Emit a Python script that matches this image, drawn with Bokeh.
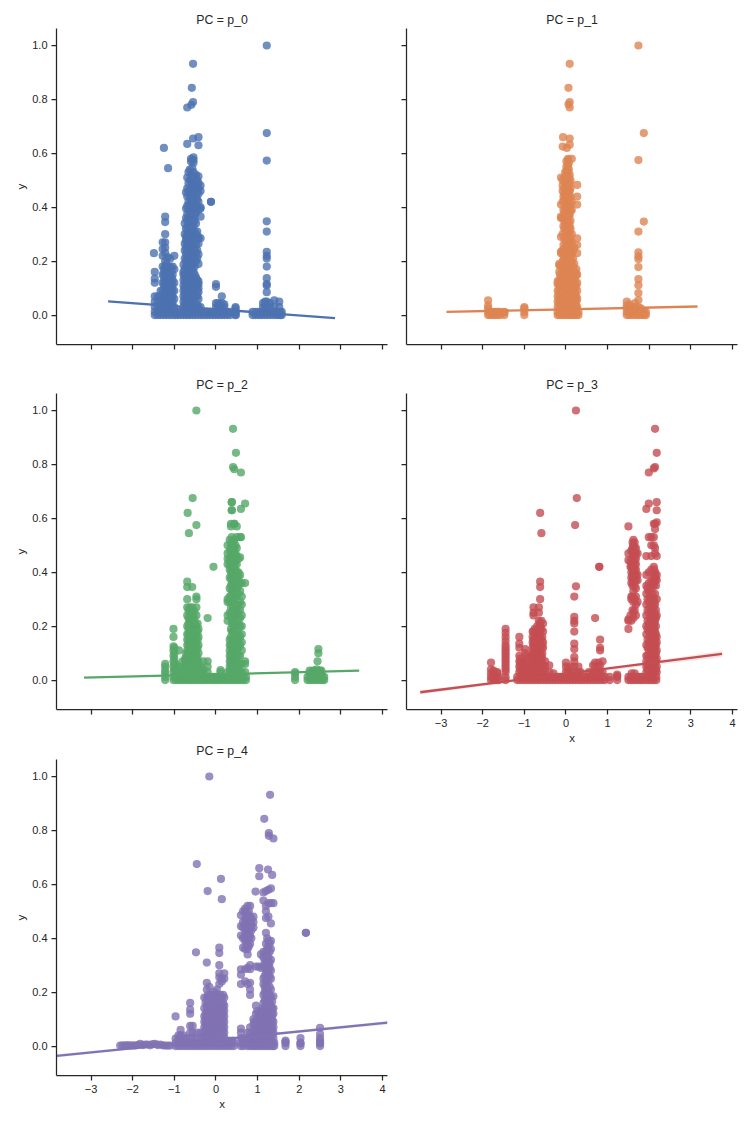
from bokeh.plotting import figure
from bokeh.layouts import column, row
from bokeh.models import FixedTicker, Range1d
from bokeh.embed import file_html
from bokeh.resources import INLINE

panel_titles = ["PC = p_0", "PC = p_1", "PC = p_2", "PC = p_3", "PC = p_4"]
colors = ["#4c72b0", "#dd8452", "#55a868", "#c44e52", "#8172b3"]
x_ticks = [-3, -2, -1, 0, 1, 2, 3, 4]
x_tick_labels = ["−3", "−2", "−1", "0", "1", "2", "3", "4"]
y_ticks = [0.0, 0.2, 0.4, 0.6, 0.8, 1.0]
y_tick_labels = ["0.0", "0.2", "0.4", "0.6", "0.8", "1.0"]
floor_y = [0.0, 0.012]

# (x, [y values]) columns
p0_floor_x = [-1.47,-1.4,-1.33,-1.26,-1.19,-1.12,-1.05,-.98,-.92,-.85,-.78,-.71,-.64,-.57,-.5,-.43,-.36,-.29,-.22,-.15,-.08,-.01,.06,.13,.2,.27,.34,.46,.48,.88,.95,1.02,1.09,1.16,1.23,1.3,1.37,1.44,1.5,1.55,1.58]
p0_columns = [
 (-1.49,[.23]),(-1.47,[.03,.05,.07,.12,.135,.16]),(-1.4,[.03,.05,.07]),(-1.33,[.03,.05,.07,.09]),
 (-1.28,[.03,.06,.09,.12,.15,.18,.22,.245,.27]),
 (-1.22,[.03,.06,.08,.1,.12,.14,.16,.18,.2,.23,.25,.27,.3,.345,.365]),
 (-1.16,[.03,.05,.08,.1,.12,.14,.16,.18,.215]),
 (-1.1,[.03,.05,.07,.09,.11,.13,.15,.18,.21]),
 (-1.04,[.03,.05,.07,.09,.11,.13,.15,.18]),(-1.0,[.03,.06,.09,.12,.17,.22]),
 (-.78,[.03,.05,.07,.09,.11,.13,.15,.16,.187]),
 (-.72,[.03,.05,.07,.09,.11,.13,.155,.18,.2,.225,.25,.275,.29,.32,.36,.395,.455]),
 (-.66,[.03,.05,.08,.11,.14,.17,.2,.22,.24,.27,.29,.31,.335,.36,.39,.42,.455,.49,.53]),
 (-.6,[.03,.06,.09,.12,.15,.18,.2,.23,.25,.28,.31,.34,.37,.4,.43,.46,.5,.52,.57,.58]),
 (-.54,[.03,.06,.08,.11,.14,.16,.19,.22,.25,.27,.3,.33,.36,.39,.42,.44,.47,.49,.53,.565,.575,.585]),
 (-.48,[.03,.07,.1,.12,.14,.2,.23,.26,.3,.34,.38,.41,.44,.47,.5,.52]),
 (-.42,[.03,.06,.085,.1,.115,.125,.19,.225,.265,.285,.29,.39,.42,.45,.47,.49,.515]),
 (-.37,[.03,.285,.365,.395,.4,.46,.48]),
 (0.0,[.03,.045,.105,.115]),(.05,[.03,.045]),(.1,[.03,.04]),(.14,[.03,.045,.07]),(.2,[.03,.04]),(.47,[.025,.03]),
 (1.13,[.03,.045]),(1.18,[.03,.05]),
 (1.22,[.03,.05,.085,.11,.115,.137,.18,.21,.22,.235,.31,.348,.573,.675,1.0]),
 (1.3,[.03,.045]),(1.4,[.03,.055]),(1.52,[.03,.05]),
 (-.55,[.655,.79,.932]),(-.58,[.843]),(-.59,[.78]),(-.69,[.77,.635]),(-.42,[.63,.66]),
 (-1.25,[.62]),(-1.15,[.545]),(-.12,[.42,.42]),
 # the dense parts of the blocks
 (-1.25,[.04,.07,.11,.13,.15,.17]),(-1.19,[.04,.07,.09,.11,.13,.15,.17,.19]),(-1.13,[.04,.06,.09,.11,.13,.15,.17]),(-1.07,[.04,.06,.08,.1,.12,.14,.165]),
 (-.75,[.04,.06,.08,.1,.12,.14,.17,.21,.24,.265,.3,.34]),
 (-.69,[.04,.06,.09,.12,.15,.19,.21,.23,.255,.28,.3,.325,.35,.375,.405,.44,.47,.51]),
 (-.63,[.04,.07,.1,.13,.16,.19,.21,.235,.26,.28,.3,.32,.35,.38,.41,.44,.47,.5,.54]),
 (-.57,[.04,.07,.1,.13,.17,.21,.24,.265,.29,.32,.35,.38,.41,.44,.45,.48,.51,.545]),
 (-.51,[.04,.07,.1,.13,.15,.18,.21,.24,.28,.31,.35,.37,.4,.43,.46,.48,.51]),
 (-.45,[.04,.07,.09,.11,.13,.21,.24,.28,.31,.4,.43,.46,.48,.5]),
]
p0_line_x = [-2.59, 2.86]
p0_line_y = [0.051, -0.011]

p1_floor_x = [-1.87,-1.82,-1.76,-1.7,-1.64,-1.58,-1.48,-1.0,-.2,-.15,-.1,-.05,0,.05,.1,.15,.2,.25,.3,1.46,1.52,1.58,1.64,1.7,1.76,1.82,1.88,1.92]
p1_columns = [
 (-1.87,[.025,.035,.055]),(-1.0,[.025,.03]),(-1.48,[.01]),
 (-.2,[.03,.05,.07,.09,.115,.125]),(-.16,[.03,.05,.07,.09,.11,.13,.16,.185,.19]),
 (-.12,[.03,.05,.07,.09,.11,.14,.18,.23,.235,.29,.36,.365,.41,.51]),
 (-.08,[.03,.05,.07,.1,.13,.17,.2,.24,.3,.36,.42,.46,.48,.5,.625]),
 (-.04,[.03,.06,.09,.12,.15,.18,.21,.24,.28,.32,.35,.38,.43,.45,.47,.51]),
 (.01,[.03,.06,.09,.12,.15,.18,.21,.24,.27,.31,.33,.36,.39,.42,.45,.48,.5,.53,.55,.57]),
 (.05,[.03,.06,.09,.12,.15,.18,.21,.24,.27,.3,.33,.36,.38,.41,.44,.47,.5,.53,.555,.575,.58]),
 (.09,[.03,.06,.09,.12,.15,.18,.21,.24,.27,.3,.33,.37,.4,.43,.46,.49,.52]),
 (.14,[.03,.06,.09,.12,.14,.17,.2,.23,.27,.3,.39,.42,.58]),
 (.2,[.03,.05,.07,.09,.11,.14,.19,.25]),(.25,[.03,.05,.07,.11,.15,.17]),
 (.27,[.03,.06,.09,.12,.15,.23,.26,.285,.41,.44,.483]),
 (1.46,[.025,.035,.05]),(1.52,[.025,.04]),(1.58,[.03]),(1.66,[.03,.045]),
 (1.74,[.03,.056,.082,.111,.134,.178,.208,.218,.233,.31,.575,1.0]),
 (1.8,[.025]),(1.87,[.347,.675]),
 (.09,[.632,.655,.79,.77,.932]),(.06,[.782,.843]),(-.07,[.66]),(.02,[.62]),
 # the dense parts of the tower
 (-.14,[.04,.06,.08,.1,.12,.15]),(-.06,[.04,.06,.085,.11,.14,.19,.22,.26,.33,.39,.44]),
 (-.02,[.04,.07,.1,.13,.16,.19,.22,.25,.29,.34,.37,.4,.44,.49,.53]),
 (.03,[.04,.07,.1,.13,.16,.19,.22,.25,.285,.32,.345,.37,.4,.43,.46,.49,.515,.54]),
 (.07,[.04,.07,.1,.13,.16,.19,.225,.255,.285,.315,.345,.37,.395,.42,.45,.48,.51,.54,.565]),
 (.11,[.04,.07,.1,.13,.16,.19,.22,.25,.28,.32,.35,.385,.41,.44,.47,.5]),
 (.17,[.04,.07,.1,.13,.16,.18,.21,.24]),(.22,[.04,.06,.08,.1,.13,.16]),
]
p1_line_x = [-2.87, 3.16]
p1_line_y = [0.012, 0.032]

p2_floor_x = [-1.22,-1.02,-.96,-.9,-.84,-.78,-.72,-.66,-.6,-.54,-.48,-.42,-.36,-.3,-.24,-.18,-.12,-.06,0,.06,.12,.18,.24,.3,.36,.42,.48,.54,.6,.66,.72,1.9,2.2,2.26,2.32,2.38,2.44,2.5,2.56,2.6]
p2_columns = [
 (-1.22,[.025,.035,.05,.06]),
 (-1.02,[.03,.05,.07,.09,.11,.125,.16,.19]),(-.96,[.03,.05,.06]),(-.89,[.03,.05,.11]),
 (-.8,[.03,.045,.07]),(-.74,[.03,.05,.07,.08]),
 (-.69,[.03,.05,.07,.09,.11,.13,.15,.17,.2,.24,.27,.3,.345,.365]),
 (-.63,[.03,.05,.07,.09,.12,.14,.16,.18,.2,.22,.25,.27]),
 (-.57,[.03,.05,.08,.1,.12,.14,.17,.2,.23,.25,.27,.345]),
 (-.52,[.03,.05,.07,.09,.12,.15,.17,.2,.225,.255]),
 (-.47,[.03,.05,.07,.09,.11,.14,.17,.2,.24,.27,.3,.31]),
 (-.42,[.03,.05,.07,.1,.13,.16,.19]),(-.36,[.03,.05]),(-.3,[.03,.04,.07]),(-.2,[.03,.05,.07,.23]),
 (.11,[.03,.037]),
 (.28,[.03,.22,.24,.29,.3,.43,.45,.47,.5]),
 (.33,[.03,.05,.07,.09,.11,.13,.15,.25,.29,.31,.34,.38,.41,.43,.45,.48,.52]),
 (.38,[.03,.05,.07,.09,.12,.15,.18,.21,.25,.29,.33,.36,.39,.41,.44,.47,.5,.53,.63,.66]),
 (.44,[.03,.05,.07,.1,.13,.17,.2,.23,.26,.31,.34,.37,.4,.43,.46,.49,.52,.58]),
 (.5,[.03,.05,.08,.11,.14,.17,.2,.24,.27,.31,.34,.37,.4,.43,.46,.49,.53,.57]),
 (.58,[.03,.06,.09,.13,.16,.2,.23,.26,.29,.33,.36,.39,.455,.53]),
 (.62,[.03,.06,.11,.14,.17,.2,.24,.28,.31,.36]),
 (.7,[.03,.06,.07,.36]),
 (1.9,[.025,.03]),
 (2.25,[.025,.035]),(2.33,[.025,.035]),(2.42,[.025,.04]),(2.46,[.1,.115]),(2.44,[.07]),(2.53,[.025,.035]),
 (-.47,[1.0,.575]),(.41,[.932,.79]),(.48,[.843]),(.44,[.782,.58]),(.6,[.77,.635,.53]),(.38,[.66,.63]),(.7,[.655]),
 (-.56,[.675]),(-.68,[.62]),(-.65,[.545]),(-.06,[.42]),(.36,[.57,.58]),
 # the dense parts of the towers
 (-1.0,[.04,.06,.08,.1,.12]),
 (-.72,[.04,.06,.08,.1]),(-.66,[.04,.06,.08,.1,.13,.15,.17,.19,.21,.23,.26]),
 (-.6,[.04,.06,.08,.1,.13,.15,.17,.19,.21,.24]),(-.54,[.04,.06,.09,.11,.13,.15,.18,.21,.24]),
 (-.5,[.04,.06,.08,.1,.13,.16,.18,.21]),(-.44,[.04,.06,.08,.12,.15,.18,.21]),
 (.36,[.04,.06,.08,.1,.13,.16,.19,.23,.27,.31,.35,.375,.4,.42,.44,.46,.49,.51]),
 (.41,[.04,.06,.08,.11,.14,.18,.21,.24,.27,.3,.33,.355,.38,.4,.42,.45,.48,.51]),
 (.47,[.04,.06,.09,.12,.15,.18,.21,.245,.28,.32,.35,.38,.41,.44,.47,.5]),
 (.54,[.04,.06,.09,.12,.15,.18,.22,.25,.28,.32,.35,.38,.4,.45]),
 (2.3,[.02,.03]),(2.38,[.02,.035]),(2.5,[.02,.035]),
]
p2_line_x = [-3.17, 3.44]
p2_line_y = [0.009, 0.035]

p3_floor_x = [-1.8,-1.74,-1.68,-1.62,-1.45,-1.17,-1.1,-1.03,-.96,-.89,-.82,-.75,-.68,-.61,-.54,-.47,-.4,-.33,-.26,-.19,-.12,-.05,.02,.09,.16,.23,.3,.37,.44,.51,.58,.65,.72,.79,.86,.93,1.05,1.23,1.5,1.56,1.62,1.68,1.74,1.8,1.86,1.93,1.99,2.05,2.11,2.17]
p3_columns = [
 (-1.8,[.025,.04,.065]),(-1.74,[.025,.035]),(-1.65,[.025,.03]),
 (-1.45,[.03,.05,.07,.09,.11,.13,.16,.175,.19]),
 (-1.12,[.03,.05,.07,.09,.12,.135,.16]),(-1.05,[.03,.05,.07]),(-.98,[.03,.05,.07,.1,.115]),(-.92,[.03,.05,.08]),
 (-.84,[.03,.06,.09]),
 (-.78,[.03,.05,.07,.09,.11,.13,.15,.18,.24,.25,.27]),
 (-.72,[.03,.05,.07,.09,.12,.14,.16,.18]),
 (-.65,[.03,.06,.08,.1,.12,.14,.17,.19,.22,.25,.27]),
 (-.62,[.03,.05,.08,.11,.13,.15,.18,.2,.3,.345,.365,.62]),
 (-.59,[.03,.05,.07,.09,.12,.15,.19,.22,.545]),
 (-.55,[.03,.05,.12,.14,.18,.21]),(-.5,[.03,.05,.07]),(-.4,[.03,.055]),(-.3,[.025]),
 (0.0,[.03,.05,.065]),(.05,[.03,.045]),(.12,[.03,.05]),(.2,[.03,.05,.07,.085,.115,.135,.18,.21,.22,.235,.31]),(.24,[.348,1.0]),(.3,[.03,.05]),(.35,[.03]),
 (.55,[.03]),(.65,[.03,.055]),(.7,[.03,.05,.065,.23]),(.78,[.03,.05,.065]),(.82,[.03,.055,.11,.12,.15]),(.88,[.03,.07]),
 (1.23,[.015,.02]),(1.58,[.025]),(1.65,[.025]),
 (1.5,[.19,.22,.225,.445,.47,.57]),(1.55,[.24,.44,.42]),
 (1.57,[.22,.3,.31,.36,.38,.4,.42,.48]),
 (1.62,[.23,.25,.29,.33,.36,.38,.4,.42,.44,.46,.48,.5,.52]),
 (1.68,[.24,.28,.31,.34,.37,.39,.41,.43,.45,.47,.49]),
 (1.72,[.29,.37,.39,.47]),
 (1.93,[.03,.05,.07,.09,.13,.17,.2,.24,.28,.32,.35,.39,.46,.635]),
 (1.99,[.03,.05,.08,.11,.14,.18,.21,.25,.29,.33,.36,.4,.53,.655,.77]),
 (2.05,[.03,.05,.07,.1,.13,.16,.19,.22,.26,.3,.34,.37,.41,.46,.5,.53]),
 (2.11,[.03,.05,.07,.09,.11,.14,.17,.2,.23,.27,.3,.35,.38,.42,.5,.53,.58,.785]),
 (2.14,[.03,.06,.09,.12,.15,.18,.22,.24,.28,.32,.37,.4,.47,.49,.56,.58,.79,.932]),
 (2.18,[.03,.05,.08,.11,.14,.16,.24,.3,.37,.39,.46,.585,.63,.66,.843]),
 (.22,[.575]),(.26,[.675]),(.8,[.42,.42]),
 # the dense parts of the blocks and towers
 (-1.45,[.04,.06,.08,.1,.12,.145]),(-1.1,[.04,.06,.08]),(-.95,[.04,.06,.09]),
 (-.8,[.04,.06,.08,.1,.12,.14,.16,.18]),(-.75,[.04,.06,.08,.1,.12,.14,.16,.19]),(-.69,[.04,.06,.08,.1,.12,.14,.16,.18,.2]),
 (-.63,[.04,.07,.09,.11,.13,.16,.19,.21]),(-.57,[.04,.06,.08,.1,.13,.16]),
 (1.6,[.26,.31,.35,.37,.39,.41,.43,.45,.47,.49,.51]),(1.65,[.26,.3,.35,.37,.39,.41,.43,.45,.47,.49,.51]),
 (1.96,[.04,.06,.09,.12,.15,.19,.22,.26,.3,.34]),(2.02,[.04,.06,.09,.12,.15,.17,.2,.23,.27,.31]),
 (2.08,[.04,.06,.08,.11,.14,.17,.2,.24,.28,.32,.36]),(2.12,[.04,.06,.08,.1,.13,.16,.19,.21,.25,.29,.36,.39,.41]),
 (2.16,[.04,.07,.1,.13,.17,.2,.23,.26,.35,.38]),
]
p3_line_x = [-3.5, 3.75]
p3_line_y = [-0.045, 0.097]
p3_band_x = [-3.5, 0.0, 3.75]
p3_band_low = [-0.052, 0.016, 0.086]
p3_band_high = [-0.038, 0.024, 0.108]

p4_floor_x = [-.97,-.9,-.83,-.76,-.69,-.62,-.55,-.48,-.41,-.34,-.27,-.2,-.13,-.06,.01,.08,.15,.22,.29,.36,.43,.6,.66,.76,.82,.88,.94,1.0,1.06,1.12,1.18,1.24,1.3,1.36,1.4,1.67,2.03,2.5]
p4_left_x = [-2.3,-2.24,-2.18,-2.12,-2.06,-2.0,-1.94,-1.88,-1.82,-1.76,-1.7,-1.64,-1.58,-1.52,-1.46,-1.4,-1.34,-1.28,-1.22,-1.16,-1.1]
p4_left_y = [.002,.003,.002,.004,.002,.003,.002,.004,.008,.004,.006,.006,.003,.007,.008,.004,.006,.003,.002,.002,.002]
p4_columns = [
 (-.97,[.028,.11]),(-.9,[.028,.04]),(-.85,[.03,.04,.06]),(-.78,[.028,.04]),(-.7,[.03]),
 (-.62,[.03,.05,.075,.12,.135,.16]),(-.56,[.03,.05,.075]),(-.45,[.03,.05]),(-.36,[.03,.05]),
 (-.28,[.03,.05,.07,.09,.11,.14,.18]),
 (-.22,[.03,.05,.07,.09,.11,.13,.15,.18,.21,.235,.31]),
 (-.16,[.03,.05,.07,.09,.11,.13,.15,.18,.22]),
 (-.1,[.03,.05,.07,.09,.11,.13,.15,.17,.19]),
 (-.04,[.03,.05,.07,.09,.11,.13,.15,.18,.2]),
 (.02,[.03,.05,.07,.09,.11,.13,.15,.18,.21]),
 (.08,[.03,.05,.07,.09,.11,.13,.15,.18,.23,.255,.27,.3,.345,.365]),
 (.14,[.03,.05,.07,.09,.11,.13,.15,.18,.24,.25]),
 (.2,[.03,.05,.07,.09,.11,.13,.15,.18,.25,.27]),
 (.3,[.02]),(.4,[.02]),
 (.6,[.03,.05,.065,.23,.265,.285,.41,.445,.485]),
 (.65,[.025,.365,.4,.44,.46,.5]),
 (.7,[.24,.285,.36,.39,.41,.43,.45,.47,.5,.51]),
 (.76,[.03,.05,.23,.29,.34,.36,.39,.43,.45,.47,.49,.52]),
 (.82,[.03,.05,.07,.19,.21,.235,.285,.3,.38,.41,.44,.46,.48,.52]),
 (.9,[.03,.05,.08,.1,.44,.46,.48]),
 (.96,[.03,.05,.07,.09,.12,.15,.295]),
 (1.02,[.03,.06,.09,.12,.295]),
 (1.08,[.03,.05,.07,.09,.11,.13,.29,.34]),
 (1.14,[.03,.05,.07,.09,.11,.13,.16,.19,.23,.25,.3,.33,.35,.54,.57]),
 (1.2,[.03,.05,.07,.09,.11,.13,.15,.18,.21,.24,.27,.31,.35,.38,.42,.475,.5,.52,.575]),
 (1.26,[.03,.05,.07,.09,.11,.13,.15,.17,.2,.24,.27,.3,.33,.37,.39,.48,.53,.58]),
 (1.32,[.03,.05,.07,.09,.11,.13,.15,.18,.21,.25,.28,.32,.36,.39,.455,.53,.585]),
 (1.38,[.03,.05,.07,.09,.12,.14,.185,.53]),
 (1.67,[.015,.02]),(2.03,[.01,.03]),(2.5,[.01,.02,.03,.045,.068]),
 (-.16,[1.0]),(1.3,[.932]),(1.16,[.843]),(1.27,[.79,.78]),(1.38,[.77]),(-.46,[.675]),(.12,[.62]),(-.2,[.575]),(.14,[.545]),
 (1.04,[.66,.63]),(1.25,[.655]),(1.35,[.635]),(2.16,[.42,.42]),(-.48,[.348]),(.95,[.573]),
 # the dense parts of the blocks and towers
 (-.25,[.04,.06,.08,.1,.12,.16]),(-.19,[.04,.06,.08,.1,.12,.14,.16,.19]),(-.13,[.04,.06,.08,.1,.12,.14,.16,.19]),
 (-.07,[.04,.06,.08,.1,.12,.14,.16,.18]),(-.01,[.04,.06,.08,.1,.12,.14,.16,.19]),(.05,[.04,.06,.08,.1,.12,.14,.16,.19]),
 (.11,[.04,.06,.08,.1,.12,.14,.16,.19]),(.17,[.04,.06,.08,.1,.12,.14,.16,.19]),
 (.73,[.38,.4,.42,.44,.46,.48]),(.79,[.37,.4,.42,.44,.46,.48,.5]),(.85,[.4,.43,.45,.47]),
 (.92,[.04,.06,.09]),(.99,[.04,.06,.08,.1,.13]),(1.05,[.04,.07,.1,.12]),
 (1.11,[.04,.06,.08,.1,.12,.14]),(1.17,[.04,.06,.08,.1,.12,.14,.17,.2,.22,.26,.29,.32]),
 (1.23,[.04,.06,.08,.1,.12,.14,.16,.19,.22,.25,.28,.32,.34,.36,.4]),
 (1.29,[.04,.06,.08,.1,.12,.14,.16,.19,.22,.26,.29,.31,.35,.38]),
 (1.35,[.04,.06,.08,.1,.12,.14,.165]),
]
p4_line_x = [-3.83, 4.12]
p4_line_y = [-0.036, 0.087]
p4_band_x = [-3.83, 0.0, 4.12]
p4_band_low = [-0.042, 0.022, 0.079]
p4_band_high = [-0.030, 0.028, 0.093]

PANELS = [
    (p0_floor_x, p0_columns, p0_line_x, p0_line_y, None),
    (p1_floor_x, p1_columns, p1_line_x, p1_line_y, None),
    (p2_floor_x, p2_columns, p2_line_x, p2_line_y, None),
    (p3_floor_x, p3_columns, p3_line_x, p3_line_y, (p3_band_x, p3_band_low, p3_band_high)),
    (p4_floor_x, p4_columns, p4_line_x, p4_line_y, (p4_band_x, p4_band_low, p4_band_high)),
]
INK = "#262626"
FONT = "Liberation Sans"
X_RANGE = (-3.83, 4.12)
Y_RANGE = (-0.109, 1.063)


def panel(i, show_ylab, show_xlab, top, bottom, left, right):
    floor_x, cols, lx, ly, band = PANELS[i]
    p = figure(width=left + 331 + right, height=top + 316 + bottom,
               x_range=Range1d(*X_RANGE), y_range=Range1d(*Y_RANGE),
               output_backend="svg", toolbar_location=None,
               min_border_left=left, min_border_right=right,
               min_border_top=top, min_border_bottom=bottom,
               frame_width=331, frame_height=316)
    p.outline_line_color = None
    p.grid.visible = False
    p.title.text = panel_titles[i]
    p.title.align = "center"
    p.title.text_font = FONT
    p.title.text_font_size = "12.3px"
    p.title.text_font_style = "normal"
    p.title.text_color = INK
    p.title.standoff = 4
    for ax, ticks, labels, show in (
        (p.xaxis[0], x_ticks, x_tick_labels, show_xlab),
        (p.yaxis[0], y_ticks, y_tick_labels, show_ylab),
    ):
        ax.ticker = FixedTicker(ticks=ticks)
        ax.major_label_overrides = {t: s for t, s in zip(ticks, labels)}
        ax.axis_line_color = INK
        ax.axis_line_width = 1.25
        ax.major_tick_line_color = INK
        ax.major_tick_line_width = 1.25
        ax.major_tick_out = 5
        ax.major_tick_in = 0
        ax.minor_tick_line_color = None
        ax.major_label_text_font = FONT
        ax.major_label_text_font_size = "11px"
        ax.major_label_text_color = INK
        ax.major_label_standoff = 4
        ax.axis_label_text_font = FONT
        ax.axis_label_text_font_size = "11.5px"
        ax.axis_label_text_font_style = "normal"
        ax.axis_label_text_color = INK
        ax.axis_label_standoff = 2
        if not show:
            ax.major_label_text_font_size = "0px"
            ax.major_label_text_color = None
    if show_ylab:
        p.yaxis[0].axis_label = "y"
    if show_xlab:
        p.xaxis[0].axis_label = "x"

    xs, ys = [], []
    for x in floor_x:
        for y in floor_y:
            xs.append(x)
            ys.append(y)
    if i == 4:
        xs.extend(p4_left_x)
        ys.extend(p4_left_y)
    for x, col in cols:
        for y in col:
            xs.append(x)
            ys.append(y)
    c = colors[i]
    p.scatter(xs, ys, size=8.2, fill_color=c, fill_alpha=0.8, line_color=None)
    if band:
        p.varea(band[0], band[1], band[2], fill_color=c, fill_alpha=0.15)
    p.line(lx, ly, line_color=c, line_width=2.3)
    return p


p0 = panel(0, True, False, 28, 29, 56, 9)
p1 = panel(1, False, False, 28, 29, 10, 3)
p2 = panel(2, True, False, 20, 29, 56, 9)
p3 = panel(3, False, True, 20, 72, 10, 3)
p4 = panel(4, True, True, 21, 40, 56, 9)

page = row(column(p0, p2, p4, spacing=0), column(p1, p3, spacing=0), spacing=0)
open("out.html", "w").write(file_html(page, INLINE))
